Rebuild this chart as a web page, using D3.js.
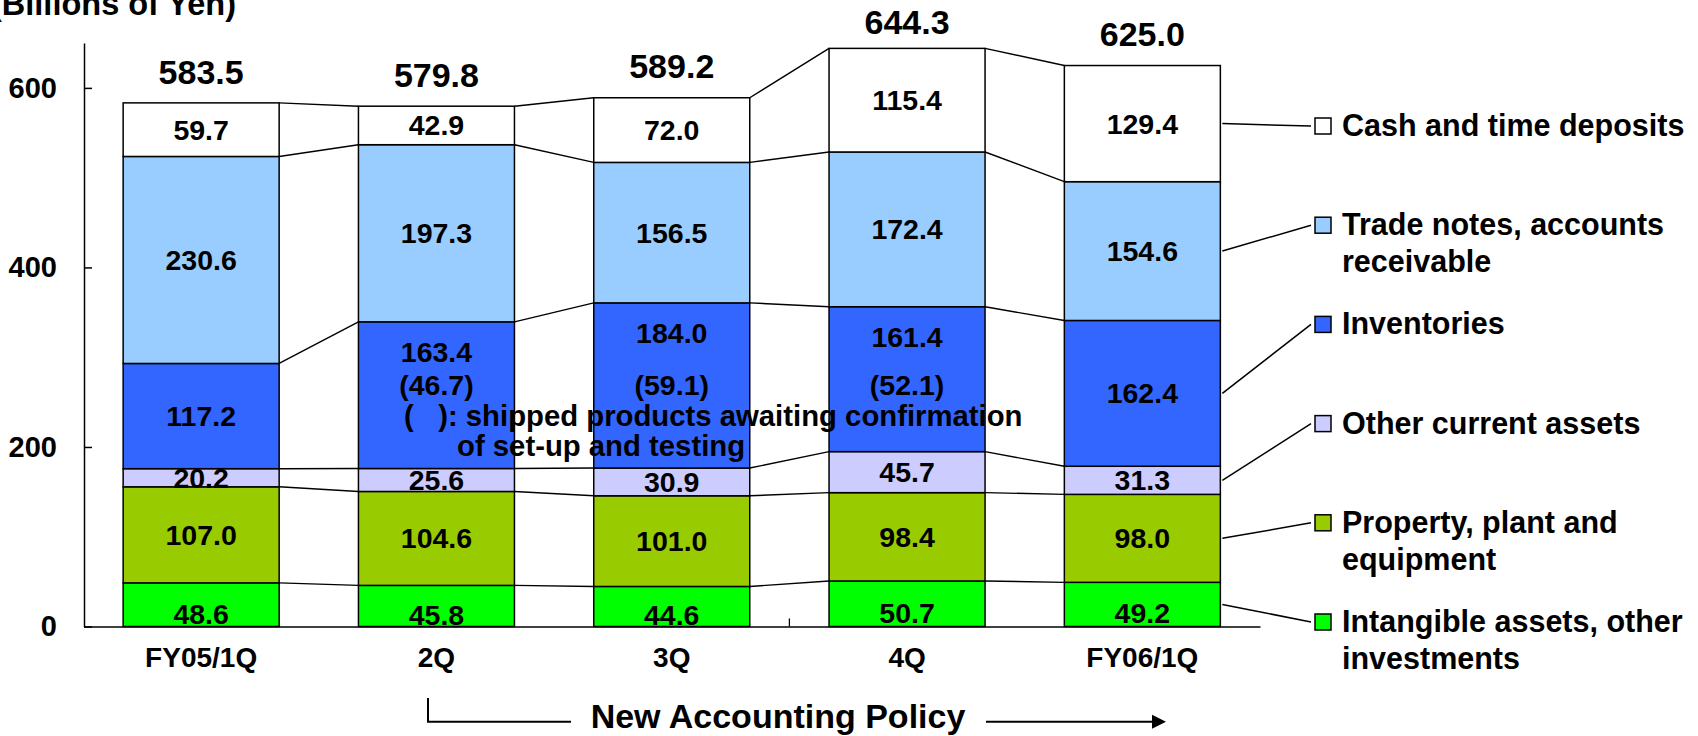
<!DOCTYPE html>
<html>
<head>
<meta charset="utf-8">
<script src="https://cdn.jsdelivr.net/npm/d3@7"></script>
<style>
  body { margin: 0; background: #fff; }
  svg text { font-family: "Liberation Sans", Arial, sans-serif; font-weight: bold; fill: #000; }
</style>
</head>
<body>
<svg width="1698" height="736"></svg>
<script>
// data (billions of yen)
const categories = ["FY05/1Q", "2Q", "3Q", "4Q", "FY06/1Q"];
const intangible = [48.6, 45.8, 44.6, 50.7, 49.2];
const ppe = [107.0, 104.6, 101.0, 98.4, 98.0];
const otherCurrent = [20.2, 25.6, 30.9, 45.7, 31.3];
const inventories = [117.2, 163.4, 184.0, 161.4, 162.4];
const tradeNotes = [230.6, 197.3, 156.5, 172.4, 154.6];
const cash = [59.7, 42.9, 72.0, 115.4, 129.4];
const totals = [583.5, 579.8, 589.2, 644.3, 625.0];
const shipped = [null, 46.7, 59.1, 52.1, null];
const yTicks = [0, 200, 400, 600];

const keys = ["intangible", "ppe", "otherCurrent", "inventories", "tradeNotes", "cash"];
const colors = ["#00ff00", "#99cc00", "#ccccff", "#3366ff", "#99ccff", "#ffffff"];
const legendLines = [
  ["Intangible assets, other", "investments"],
  ["Property, plant and", "equipment"],
  ["Other current assets"],
  ["Inventories"],
  ["Trade notes, accounts", "receivable"],
  ["Cash and time deposits"]
];

const width = 1698, height = 736;
const svg = d3.select("svg");

const x = d3.scaleBand()
  .domain(categories)
  .range([83.5, 1260])
  .paddingInner(0.337)
  .paddingOuter(0.1685);
const y = d3.scaleLinear().domain([0, 650]).range([626.5, 43]);
const bw = x.bandwidth();

const rows = categories.map((c, i) => ({
  cat: c,
  intangible: intangible[i],
  ppe: ppe[i],
  otherCurrent: otherCurrent[i],
  inventories: inventories[i],
  tradeNotes: tradeNotes[i],
  cash: cash[i]
}));
const series = d3.stack().keys(keys)(rows);

// connector lines between the bars
const conn = svg.append("g").attr("stroke", "#000").attr("stroke-width", 1.4);
series.forEach(s => {
  for (let i = 0; i < s.length - 1; i++) {
    conn.append("line")
      .attr("x1", x(categories[i]) + bw).attr("y1", y(s[i][1]))
      .attr("x2", x(categories[i + 1])).attr("y2", y(s[i + 1][1]));
  }
});

// bars
const layer = svg.append("g").selectAll("g")
  .data(series)
  .enter().append("g")
  .attr("fill", (d, i) => colors[i]);

layer.selectAll("rect")
  .data(d => d)
  .enter().append("rect")
  .attr("x", d => x(d.data.cat))
  .attr("y", d => y(d[1]))
  .attr("width", bw)
  .attr("height", d => y(d[0]) - y(d[1]))
  .attr("stroke", "#000")
  .attr("stroke-width", 1.5);

// axes
const yAxis = svg.append("g")
  .attr("transform", "translate(84,0)")
  .call(d3.axisLeft(y).tickValues(yTicks).tickSizeInner(-8).tickSizeOuter(0).tickPadding(27));
yAxis.select(".domain").attr("stroke-width", 1.5);
yAxis.selectAll(".tick line").attr("stroke-width", 1.5);
yAxis.selectAll("text").attr("font-size", 29).attr("font-family", null);

const xAxis = svg.append("g")
  .attr("transform", "translate(0," + y(0) + ")")
  .call(d3.axisBottom(x).tickSize(0).tickPadding(21));
xAxis.select(".domain").attr("stroke-width", 1.5);
xAxis.selectAll("text").attr("font-size", 28).attr("font-family", null);

// the one category tick that shows (between 3Q and 4Q)
svg.append("line")
  .attr("x1", x("4Q") - x.step() * x.paddingInner() / 2)
  .attr("x2", x("4Q") - x.step() * x.paddingInner() / 2)
  .attr("y1", y(0)).attr("y2", y(0) - 8)
  .attr("stroke", "#000").attr("stroke-width", 1.3);

// segment labels (clipped at the baseline like the original)
svg.append("clipPath").attr("id", "plotclip")
  .append("rect").attr("x", 0).attr("y", 0).attr("width", width).attr("height", y(0) - 1);

const noteY = 426;
const labels = svg.append("g").attr("clip-path", "url(#plotclip)");
series.forEach((s, k) => {
  s.forEach((d, i) => {
    const cx = x(d.data.cat) + bw / 2;
    let cy = (y(d[0]) + y(d[1])) / 2;
    if (s.key === "intangible") cy += 9;
    if (s.key === "inventories" && shipped[i] != null) cy = y(d[1]) + 30;
    labels.append("text")
      .attr("x", cx).attr("y", cy).attr("dy", "0.35em")
      .attr("text-anchor", "middle")
      .attr("font-size", 28.5)
      .text(d.data[s.key].toFixed(1));
    if (s.key === "inventories" && shipped[i] != null) {
      labels.append("text")
        .attr("x", cx).attr("y", noteY - 41).attr("dy", "0.35em")
        .attr("text-anchor", "middle")
        .attr("font-size", 28.5)
        .text("(" + shipped[i].toFixed(1) + ")");
    }
  });
});

// totals above the bars
svg.append("g").selectAll("text")
  .data(totals)
  .enter().append("text")
  .attr("x", (d, i) => x(categories[i]) + bw / 2)
  .attr("y", d => Math.max(y(d) - 31, 22))
  .attr("dy", "0.35em")
  .attr("text-anchor", "middle")
  .attr("font-size", 34)
  .text(d => d.toFixed(1));

// note on the shipped products
const note = svg.append("text").attr("font-size", 29.3).style("white-space", "pre");
note.append("tspan").attr("x", 404).attr("y", noteY).text("(   ): shipped products awaiting confirmation");
note.append("tspan").attr("x", 457).attr("y", noteY + 30).text("of set-up and testing");

// unit title, cut off at the top-left corner
svg.append("text")
  .attr("x", 236).attr("y", 15)
  .attr("text-anchor", "end")
  .attr("font-size", 32.5)
  .text("(Billions of Yen)");

// legend with leader lines
const lgX = 1315, lgTop = 126, lgStep = 99.2, sq = 16;
const last = categories.length - 1;
series.forEach((s, k) => {
  const row = keys.length - 1 - k;
  const cy = lgTop + row * lgStep;
  const d = s[last];
  svg.append("line")
    .attr("x1", x(categories[last]) + bw + 2)
    .attr("y1", (y(d[0]) + y(d[1])) / 2)
    .attr("x2", lgX - 4).attr("y2", cy)
    .attr("stroke", "#000").attr("stroke-width", 1.5);
  svg.append("rect")
    .attr("x", lgX).attr("y", cy - sq / 2)
    .attr("width", sq).attr("height", sq)
    .attr("fill", colors[k])
    .attr("stroke", "#000").attr("stroke-width", 1.5);
  const t = svg.append("text").attr("font-size", 30.5);
  legendLines[k].forEach((line, j) => {
    t.append("tspan")
      .attr("x", lgX + 27)
      .attr("y", cy + 10 + j * 37)
      .text(line);
  });
});

// new accounting policy bracket and arrow
const policyY = 721.7;
const g = svg.append("g").attr("stroke", "#000").attr("stroke-width", 2).attr("fill", "none");
g.append("path").attr("d", `M428,698 V${policyY} H571`);
g.append("path").attr("d", `M986,${policyY} H1153`);
svg.append("path")
  .attr("d", `M1152,${policyY - 7} L1166,${policyY} L1152,${policyY + 7} Z`)
  .attr("fill", "#000");
svg.append("text")
  .attr("x", 778).attr("y", 728)
  .attr("text-anchor", "middle")
  .attr("font-size", 34)
  .text("New Accounting Policy");
</script>
</body>
</html>
